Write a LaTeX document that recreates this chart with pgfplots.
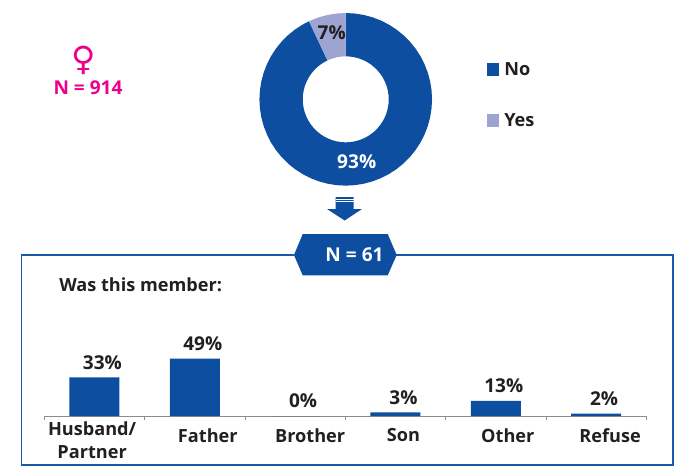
\documentclass[border=0pt]{standalone}
\usepackage{pgfplots}
\usepackage{fontspec}
\pgfplotsset{compat=1.18}
\setmainfont{Open Sans}
\newfontfamily\symfont{DejaVu Sans}
\definecolor{mainblue}{HTML}{0D4EA0}
\definecolor{lightblue}{HTML}{9EA4D2}
\definecolor{boxblue}{HTML}{1A58A8}
\definecolor{pinkf}{HTML}{EC008C}
\definecolor{inkdark}{HTML}{231F20}
\definecolor{axgray}{HTML}{8C8C8C}
\newcommand{\lab}{\fontsize{13.6pt}{18pt}\selectfont\bfseries}
\newcommand{\labn}{\fontsize{14.3pt}{18pt}\selectfont\bfseries}
\begin{document}
\begin{tikzpicture}[x=0.75pt,y=-0.75pt]
\useasboundingbox (0,0) rectangle (686,469);
% frame
\draw[boxblue,line width=1.3pt] (294,255) -- (21.5,255) -- (21.5,465) -- (672.7,465) -- (672.7,255) -- (396,255);
% donut
\begin{axis}[at={(259.3pt,-74.5pt)},anchor=center,scale only axis,width=129.45pt,height=129.45pt,
  xmin=-86.3,xmax=86.3,ymin=-86.3,ymax=86.3,hide axis,clip=false]
\addplot[fill=mainblue,draw=none,data cs=polar] coordinates {
(115.2,86.3)(120,86.3)(126,86.3)(132,86.3)(138,86.3)(144,86.3)(150,86.3)(156,86.3)(162,86.3)(168,86.3)(174,86.3)
(180,86.3)(186,86.3)(192,86.3)(198,86.3)(204,86.3)(210,86.3)(216,86.3)(222,86.3)(228,86.3)(234,86.3)
(240,86.3)(246,86.3)(252,86.3)(258,86.3)(264,86.3)(270,86.3)(276,86.3)(282,86.3)(288,86.3)(294,86.3)
(300,86.3)(306,86.3)(312,86.3)(318,86.3)(324,86.3)(330,86.3)(336,86.3)(342,86.3)(348,86.3)(354,86.3)
(360,86.3)(366,86.3)(372,86.3)(378,86.3)(384,86.3)(390,86.3)(396,86.3)(402,86.3)(408,86.3)(414,86.3)
(420,86.3)(426,86.3)(432,86.3)(438,86.3)(444,86.3)(450,86.3)
(450,43)(444,43)(438,43)(432,43)(426,43)(420,43)
(414,43)(408,43)(402,43)(396,43)(390,43)(384,43)(378,43)(372,43)(366,43)(360,43)
(354,43)(348,43)(342,43)(336,43)(330,43)(324,43)(318,43)(312,43)(306,43)(300,43)
(294,43)(288,43)(282,43)(276,43)(270,43)(264,43)(258,43)(252,43)(246,43)(240,43)
(234,43)(228,43)(222,43)(216,43)(210,43)(204,43)(198,43)(192,43)(186,43)(180,43)
(174,43)(168,43)(162,43)(156,43)(150,43)(144,43)(138,43)(132,43)(126,43)(120,43)(115.2,43)
} -- cycle;
\addplot[fill=lightblue,draw=none,data cs=polar] coordinates {
(90,86.3)(96,86.3)(102,86.3)(108,86.3)(114,86.3)(115.2,86.3)
(115.2,43)(114,43)(108,43)(102,43)(96,43)(90,43)
} -- cycle;
\end{axis}
% bars
\begin{axis}[at={(33.2pt,-312pt)},anchor=origin,scale only axis,width=451.5pt,height=52.65pt,
  xmin=0,xmax=6,ymin=0,ymax=60,clip=false,
  /pgf/number format/assume math mode=true,
  axis x line=bottom,axis y line=none,axis line style={-,axgray,line width=0.6pt},
  xtick={0,1,2,3,4,5,6},xticklabels={},
  tick align=outside,major tick length=3pt,
  tick style={axgray,line width=0.6pt},
  extra x ticks={0.477,1.63,2.65,3.58,4.62,5.64},
  extra x tick labels={{\raisebox{0pt}[\dimexpr\height+10.5pt\relax]{\begin{tabular}{@{}c@{}}Husband/\\[-0.3pt]Partner\end{tabular}}},Father,Brother,Son,Other,Refuse},
  extra x tick style={major tick length=0pt,tick style={draw=none},
    xticklabel style={anchor=center,yshift=-14.5pt,font=\lab,text=inkdark}},
  ybar,bar width=37.5pt,
  nodes near coords={\pgfmathprintnumber{\pgfplotspointmeta}\%},
  every node near coord/.append style={anchor=center,xshift=6pt,yshift=11.2pt,font=\labn,text=inkdark},
]
\addplot[fill=mainblue,draw=none] coordinates {(0.5,33)(1.5,49)(2.5,0)(3.5,3)(4.5,13)(5.5,2)};
\end{axis}
% donut labels
\node[font=\labn,text=inkdark] at (331.7,33) {7\%};
\node[font=\labn,text=white] at (356.7,162) {93\%};
% legend
\fill[mainblue] (486.5,63) rectangle (499,76);
\fill[lightblue] (486.5,114) rectangle (499,127);
\node[font=\lab,text=inkdark,anchor=west,inner sep=0pt] at (504,69) {No};
\node[font=\lab,text=inkdark,anchor=west,inner sep=0pt] at (504,120) {Yes};
% female marker
\node[text=pinkf,font=\symfont\fontsize{25pt}{26pt}\selectfont] at (83.5,60) {♀};
\node[text=pinkf,font=\labn] at (88,88) {N = 914};
% arrow
\fill[mainblue] (335.7,197) -- (353.7,197) -- (353.7,209) -- (362,209) -- (344.7,220.5) -- (327,209) -- (335.7,209) -- cycle;
\draw[white,line width=0.5pt] (335.7,199) -- (353.7,199);
\draw[white,line width=0.5pt] (335.7,201.5) -- (353.7,201.5);
% hexagon
\fill[mainblue] (294,255) -- (302.7,234) -- (387.7,234) -- (396.7,255) -- (387.7,275.3) -- (302.7,275.3) -- cycle;
\node[font=\labn,text=white] at (354.5,255) {N = 61};
\node[font=\lab,text=inkdark,anchor=west,inner sep=0pt] at (59,285) {Was this member:};
\end{tikzpicture}
\end{document}
